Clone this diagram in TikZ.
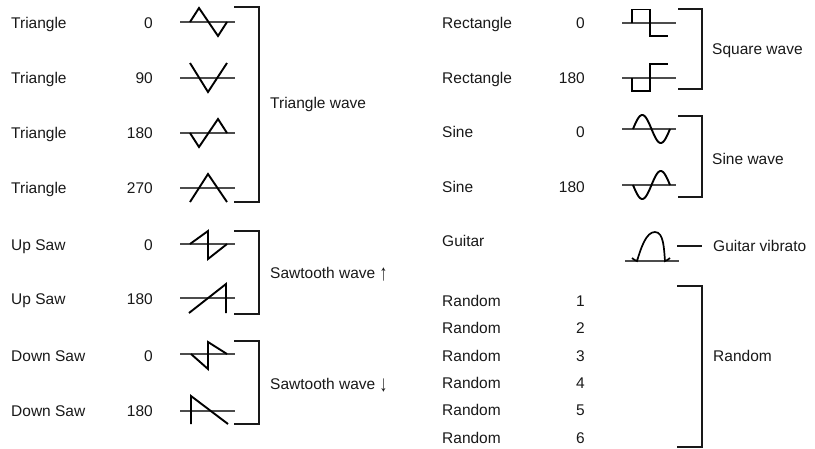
\documentclass[tikz,border=0pt]{standalone}
\usepackage{fontspec}
\setmainfont{Liberation Sans}
\newcommand{\tallarrow}[1]{\raisebox{-2pt}{\scalebox{1}[1.45]{#1}}}
\begin{document}
\begin{tikzpicture}[x=1pt,y=-1pt,
  lbl/.style={inner sep=0pt,font=\fontsize{15.5}{18}\selectfont,text=black!90},
  lname/.style={lbl,anchor=base west},
  lnum/.style={lbl,anchor=base east},
  axisline/.style={line width=1.5pt,black!70},
  wave/.style={line width=1.9pt,black,line join=miter},
  brk/.style={line width=1.6pt,black!90}]
\useasboundingbox[fill=white] (0,0) rectangle (815,448);
% ---------- left column labels (baselines at centre+6) ----------
\foreach \n/\t/\v/\y in {a/Triangle/0/28,b/Triangle/90/83,c/Triangle/180/138,d/Triangle/270/193,
  e/Up Saw/0/250,f/Up Saw/180/304,g/Down Saw/0/361,h/Down Saw/180/416}{
  \node[lname] (L\n) at (11,\y) {\t};
  \node[lnum] (N\n) at (153,\y) {\v};
}
% baselines left
\foreach \y in {22,78,133,188,244,298,354,411}{
  \draw[axisline] (180,\y) -- (235,\y);
}
% triangle waves
\draw[wave] (190,22) -- (199,8) -- (218,36) -- (227,22);
\draw[wave] (190,63) -- (208,92) -- (227,63);
\draw[wave] (190,133) -- (199,147) -- (218,119) -- (227,133);
\draw[wave] (190,202) -- (208,174) -- (227,202);
% saw up
\draw[wave] (190,244) -- (208,231) -- (208,259) -- (227,244);
\draw[wave] (189,313) -- (226,284) -- (226,313);
% saw down
\draw[wave] (191,354) -- (208,369) -- (208,342) -- (227,354);
\draw[wave] (191,424) -- (191,396) -- (228,424);
% brackets left
\draw[brk] (234,7) -- (259,7) -- (259,202) -- (234,202);
\draw[brk] (234,231) -- (259,231) -- (259,314) -- (234,314);
\draw[brk] (234,341) -- (259,341) -- (259,424) -- (234,424);
\node[lname] (Ttri) at (270,108) {Triangle wave};
\node[lname] (Tsup) at (270,278) {Sawtooth wave \tallarrow{↑}};
\node[lname] (Tsdn) at (270,389) {Sawtooth wave \tallarrow{↓}};
% ---------- right column labels ----------
\foreach \n/\t/\v/\y in {a/Rectangle/0/28,b/Rectangle/180/83,c/Sine/0/137,d/Sine/180/192}{
  \node[lname] (R\n) at (442,\y) {\t};
  \node[lnum] (M\n) at (585,\y) {\v};
}
\node[lname] (Rg) at (442,246) {Guitar};
\foreach \i in {1,...,6}{
  \node[lname] (Q\i) at (442,{306.5+(\i-1)*27.3}) {Random};
  \node[lnum] (P\i) at (585,{306.5+(\i-1)*27.3}) {\i};
}
% baselines right
\foreach \y in {23,78,129,185}{
  \draw[axisline] (622,\y) -- (676,\y);
}
\draw[axisline] (625,261) -- (679,261);
% rectangles
\draw[wave] (632,23) -- (632,9.5) -- (650,9.5) -- (650,36) -- (668,36);
\draw[wave] (632,78) -- (632,91) -- (650,91) -- (650,64) -- (668,64);
% sines
\draw[wave] plot[domain=0:360,samples=60,smooth] ({633+\x*37/360},{129-14*sin(\x)});
\draw[wave] plot[domain=0:360,samples=60,smooth] ({633+\x*37/360},{185+14*sin(\x)});
% guitar
\draw[line width=1.7pt,black] (632,258) .. controls (634,259) and (635,261) .. (637,261)
  .. controls (641,248) and (646,232) .. (655,232)
  .. controls (664,232) and (664,250) .. (665,261)
  .. controls (667,261) and (668,259) .. (670,258);
% brackets right
\draw[brk] (678,9) -- (702,9) -- (702,89) -- (678,89);
\draw[brk] (678,116) -- (702,116) -- (702,197) -- (678,197);
\draw[brk] (677,246) -- (702,246);
\draw[brk] (677,286) -- (702,286) -- (702,447) -- (677,447);
\node[lname] (Tsq) at (712,54) {Square wave};
\node[lname] (Tsin) at (712,164) {Sine wave};
\node[lname] (Tgv) at (713,251) {Guitar vibrato};
\node[lname] (Trn) at (713,361) {Random};
\end{tikzpicture}
\end{document}
